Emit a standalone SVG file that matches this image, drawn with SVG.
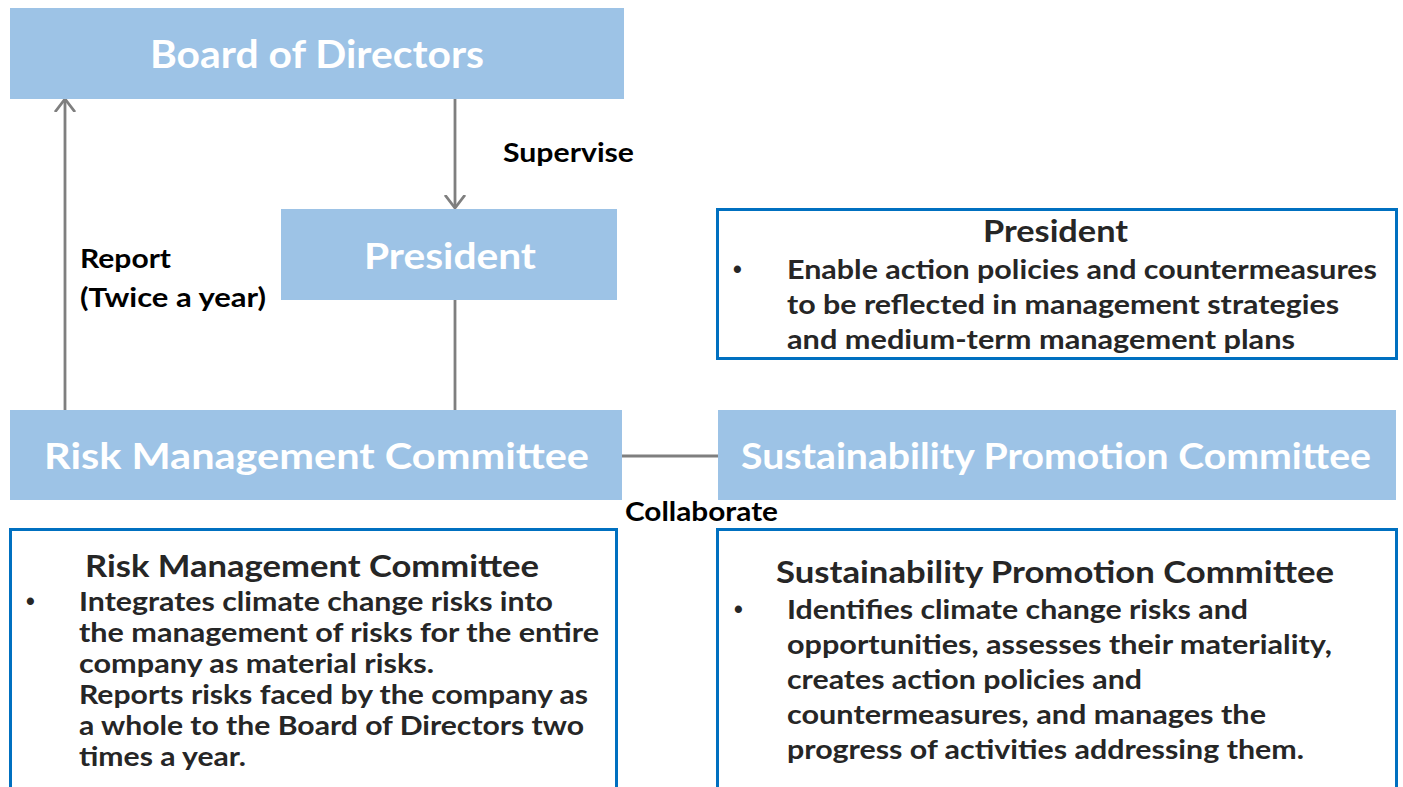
<svg xmlns="http://www.w3.org/2000/svg" width="1403" height="787" viewBox="0 0 1403 787">
<defs>
<marker id="open" markerWidth="14" markerHeight="24" refX="13" refY="12" orient="auto" markerUnits="userSpaceOnUse" viewBox="0 0 14 24">
<path d="M0,2 L13,12 L0,22" fill="none" stroke="#7F7F7F" stroke-width="2.8"/>
</marker>
<style>
.box{fill:#9DC3E6;}
.desc{fill:#FFFFFF;stroke:#0070C0;stroke-width:3;}
.head{font-family:Lato,"Open Sans",sans-serif;font-weight:700;fill:#FFFFFF;}
.lbl{font-family:Lato,"Open Sans",sans-serif;font-weight:700;fill:#000000;font-size:26px;}
.dt{font-family:Lato,"Open Sans",sans-serif;font-weight:700;fill:#262626;font-size:30px;}
.dl{font-family:Lato,"Open Sans",sans-serif;font-weight:700;fill:#262626;font-size:26px;}
.bul{font-family:"Liberation Sans",sans-serif;font-weight:700;fill:#262626;font-size:25px;}
.con{stroke:#7F7F7F;stroke-width:2.8;fill:none;}
</style>
</defs>
<rect width="1403" height="787" fill="#FFFFFF"/>
<g id="connectors">
<line class="con" x1="65" y1="410" x2="65" y2="99" marker-end="url(#open)"/>
<line class="con" x1="455" y1="99" x2="455" y2="208" marker-end="url(#open)"/>
<line class="con" x1="455" y1="300" x2="455" y2="410"/>
<line class="con" x1="622" y1="456" x2="718" y2="456"/>
<text class="lbl" x="503" y="162" textLength="131" lengthAdjust="spacingAndGlyphs">Supervise</text>
<text class="lbl" x="80" y="268" textLength="91" lengthAdjust="spacingAndGlyphs">Report</text>
<text class="lbl" x="80" y="307" textLength="186" lengthAdjust="spacingAndGlyphs">(Twice a year)</text>
<text class="lbl" x="625" y="521" textLength="153" lengthAdjust="spacingAndGlyphs">Collaborate</text>
</g>
<g id="board">
<rect class="box" x="10" y="8" width="614" height="91"/>
<text class="head" x="150" y="68" font-size="39" textLength="334" lengthAdjust="spacingAndGlyphs">Board of Directors</text>
</g>
<g id="president">
<rect class="box" x="281" y="209" width="336" height="91"/>
<text class="head" x="364" y="269" font-size="37" textLength="172" lengthAdjust="spacingAndGlyphs">President</text>
</g>
<g id="risk">
<rect class="box" x="10" y="410" width="612" height="90"/>
<text class="head" x="44" y="469" font-size="37" textLength="545" lengthAdjust="spacingAndGlyphs">Risk Management Committee</text>
</g>
<g id="sustainability">
<rect class="box" x="718" y="410" width="678" height="90"/>
<text class="head" x="741" y="469" font-size="37" textLength="630" lengthAdjust="spacingAndGlyphs">Sustainability Promotion Committee</text>
</g>
<g id="president-desc">
<rect class="desc" x="717.5" y="209.5" width="679" height="149"/>
<text class="dt" x="983" y="242" textLength="145" lengthAdjust="spacingAndGlyphs">President</text>
<text class="bul" x="733" y="278">•</text>
<text class="dl" x="787" y="279" textLength="590" lengthAdjust="spacingAndGlyphs">Enable action policies and countermeasures</text>
<text class="dl" x="787" y="314" textLength="552" lengthAdjust="spacingAndGlyphs">to be reflected in management strategies</text>
<text class="dl" x="787" y="349" textLength="508" lengthAdjust="spacingAndGlyphs">and medium-term management plans</text>
</g>
<g id="risk-desc">
<rect class="desc" x="10.5" y="529.5" width="606" height="280"/>
<text class="dt" x="85" y="577" textLength="454" lengthAdjust="spacingAndGlyphs">Risk Management Committee</text>
<text class="bul" x="26" y="610">•</text>
<text class="dl" x="79" y="611" textLength="474" lengthAdjust="spacingAndGlyphs">Integrates climate change risks into</text>
<text class="dl" x="79" y="642" textLength="520" lengthAdjust="spacingAndGlyphs">the management of risks for the entire</text>
<text class="dl" x="79" y="673" textLength="355" lengthAdjust="spacingAndGlyphs">company as material risks.</text>
<text class="dl" x="79" y="704" textLength="509" lengthAdjust="spacingAndGlyphs">Reports risks faced by the company as</text>
<text class="dl" x="79" y="735" textLength="505" lengthAdjust="spacingAndGlyphs">a whole to the Board of Directors two</text>
<text class="dl" x="79" y="766" textLength="167" lengthAdjust="spacingAndGlyphs">times a year.</text>
</g>
<g id="sustainability-desc">
<rect class="desc" x="717.5" y="529.5" width="679" height="280"/>
<text class="dt" x="776" y="583" textLength="558" lengthAdjust="spacingAndGlyphs">Sustainability Promotion Committee</text>
<text class="bul" x="734" y="618">•</text>
<text class="dl" x="787" y="619" textLength="461" lengthAdjust="spacingAndGlyphs">Identifies climate change risks and</text>
<text class="dl" x="787" y="654" textLength="545" lengthAdjust="spacingAndGlyphs">opportunities, assesses their materiality,</text>
<text class="dl" x="787" y="689" textLength="355" lengthAdjust="spacingAndGlyphs">creates action policies and</text>
<text class="dl" x="787" y="724" textLength="479" lengthAdjust="spacingAndGlyphs">countermeasures, and manages the</text>
<text class="dl" x="787" y="759" textLength="517" lengthAdjust="spacingAndGlyphs">progress of activities addressing them.</text>
</g>
</svg>
